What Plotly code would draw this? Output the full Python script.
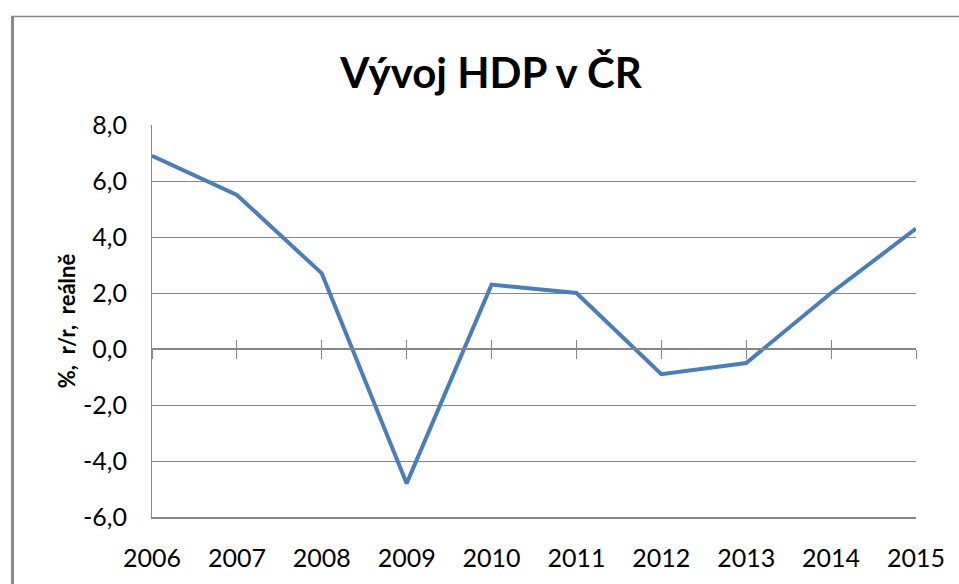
"""Vývoj HDP v ČR – line chart of real GDP growth, y/y."""

import plotly.graph_objects as go

years = [2006, 2007, 2008, 2009, 2010, 2011, 2012, 2013, 2014, 2015]
gdp = [6.9, 5.5, 2.7, -4.8, 2.3, 2.0, -0.9, -0.5, 2.0, 4.3]

y_ticks = [-6, -4, -2, 0, 2, 4, 6, 8]
y_labels = ["-6,0", "-4,0", "-2,0", "0,0", "2,0", "4,0", "6,0", "8,0"]
x_labels = [str(y) for y in years]

GRID = "#868686"
LINE = "#4A7EBB"
FONT = "Lato, 'Open Sans', sans-serif"

fig = go.Figure()
fig.add_trace(go.Scatter(
    x=years, y=gdp, mode="lines",
    line=dict(color=LINE, width=4),
    showlegend=False, hoverinfo="x+y",
))
# invisible copies so the crossing axis at zero gets drawn
for ax in ("x2", "x3"):
    fig.add_trace(go.Scatter(
        x=years, y=gdp, mode="lines", xaxis=ax,
        line=dict(width=0), opacity=0,
        showlegend=False, hoverinfo="skip",
    ))

zero_pos = (0 - y_ticks[0]) / (y_ticks[-1] - y_ticks[0])
cross_axis = dict(
    overlaying="x", anchor="free", position=zero_pos,
    range=[years[0], years[-1]], tickvals=years,
    showticklabels=False, showgrid=False, zeroline=False,
    ticklen=9, tickwidth=1, tickcolor=GRID,
)

fig.update_layout(
    width=959, height=584,
    margin=dict(l=152, r=43, t=125, b=60),
    paper_bgcolor="white", plot_bgcolor="white",
    font=dict(family=FONT, color="#000000"),
    title=dict(
        text="<b>Vývoj HDP v ČR</b>",
        font=dict(size=42, family=FONT, color="#000000"),
        x=0.512, xref="container", xanchor="center",
        y=0.875, yref="container", yanchor="middle",
    ),
    xaxis=dict(
        range=[years[0], years[-1]], tickvals=years, ticktext=x_labels,
        showgrid=False, zeroline=False,
        showline=True, linecolor=GRID, linewidth=2,
        ticks="", ticklabelstandoff=18,
        tickfont=dict(size=25, family=FONT, color="#000000"),
    ),
    xaxis2=dict(cross_axis, ticks="outside", showline=True,
                linecolor=GRID, linewidth=1.5),
    xaxis3=dict(cross_axis, ticks="inside", showline=False),
    yaxis=dict(
        range=[y_ticks[0], y_ticks[-1]], tickvals=y_ticks, ticktext=y_labels,
        showgrid=True, gridcolor=GRID, gridwidth=1, zeroline=False,
        showline=True, linecolor=GRID, linewidth=1,
        ticks="", ticklabelstandoff=19,
        tickfont=dict(size=25, family=FONT, color="#000000"),
        title=dict(
            text="<b>%,  r/r,  reálně</b>",
            font=dict(size=22, family=FONT, color="#000000"),
            standoff=1,
        ),
    ),
    shapes=[
        # outer chart border (left and top edges are visible)
        dict(type="line", xref="paper", yref="paper",
             x0=-0.1826, x1=-0.1826, y0=-0.3, y1=1.2769,
             line=dict(color="#888888", width=3)),
        dict(type="line", xref="paper", yref="paper",
             x0=-0.1846, x1=1.2, y0=1.2769, y1=1.2769,
             line=dict(color="#888888", width=1.5)),
    ],
)

# drop the default 8px page margin so the figure sits at the window origin
fig.write_html(
    "out.html",
    config={"displayModeBar": False},
    post_script="document.body.style.margin='0';",
)
